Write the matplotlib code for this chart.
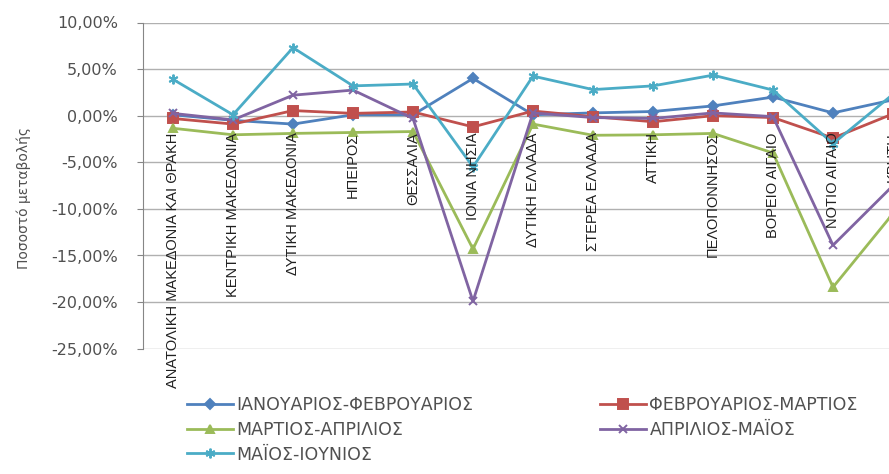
import matplotlib
matplotlib.use("Agg")
import matplotlib.pyplot as plt
from matplotlib import font_manager

# ---------------- data ----------------
regions = [
    "ΑΝΑΤΟΛΙΚΗ ΜΑΚΕΔΟΝΙΑ ΚΑΙ ΘΡΑΚΗ", "ΚΕΝΤΡΙΚΗ ΜΑΚΕΔΟΝΙΑ", "ΔΥΤΙΚΗ ΜΑΚΕΔΟΝΙΑ",
    "ΗΠΕΙΡΟΣ", "ΘΕΣΣΑΛΙΑ", "ΙΟΝΙΑ ΝΗΣΙΑ", "ΔΥΤΙΚΗ ΕΛΛΑΔΑ", "ΣΤΕΡΕΑ ΕΛΛΑΔΑ",
    "ΑΤΤΙΚΗ", "ΠΕΛΟΠΟΝΝΗΣΟΣ", "ΒΟΡΕΙΟ ΑΙΓΑΙΟ", "ΝΟΤΙΟ ΑΙΓΑΙΟ", "ΚΡΗΤΗ",
]
jan_feb = [0.1, -0.5, -0.9, 0.1, 0.1, 4.0, 0.1, 0.3, 0.45, 1.05, 2.0, 0.3, 1.7]
feb_mar = [-0.3, -0.9, 0.55, 0.25, 0.4, -1.2, 0.5, -0.1, -0.65, 0.0, -0.2, -2.4, 0.2]
mar_apr = [-1.35, -2.05, -1.9, -1.8, -1.7, -14.3, -0.9, -2.1, -2.05, -1.9, -4.0, -18.4, -10.5]
apr_may = [0.25, -0.45, 2.2, 2.75, -0.3, -19.9, 0.3, -0.2, -0.3, 0.3, -0.1, -13.9, -7.5]
may_jun = [3.9, 0.1, 7.3, 3.2, 3.4, -5.5, 4.25, 2.8, 3.2, 4.35, 2.75, -3.0, 2.3]

series_names = ["ΙΑΝΟΥΑΡΙΟΣ-ΦΕΒΡΟΥΑΡΙΟΣ", "ΦΕΒΡΟΥΑΡΙΟΣ-ΜΑΡΤΙΟΣ",
                "ΜΑΡΤΙΟΣ-ΑΠΡΙΛΙΟΣ", "ΑΠΡΙΛΙΟΣ-ΜΑΪΟΣ", "ΜΑΪΟΣ-ΙΟΥΝΙΟΣ"]
ytick_values = [10, 5, 0, -5, -10, -15, -20, -25]
ytick_labels = ["10,00%", "5,00%", "0,00%", "-5,00%", "-10,00%",
                "-15,00%", "-20,00%", "-25,00%"]
y_label = "Ποσοστό μεταβολής"

# ---------------- style ----------------
colors = ["#4F81BD", "#C0504D", "#9BBB59", "#8064A2", "#4BACC6"]
markers = ["D", "s", "^", "x", (6, 2, 0)]
msizes = [5, 7.5, 6, 6, 7]

names = {f.name for f in font_manager.fontManager.ttflist}
if "Liberation Sans Narrow" in names:
    cat_font = dict(family="Liberation Sans Narrow", size=12.5)
elif "DejaVu Sans Condensed" in names:
    cat_font = dict(family="DejaVu Sans Condensed", size=11)
else:
    cat_font = dict(family="Liberation Sans", size=10.5)

text_col = "#505050"
W, H = 889, 474
fig = plt.figure(figsize=(W / 100, H / 100), dpi=100)
left_px, top_px, bottom_px, right_px = 143, 22.5, 348.7, 923
ax = fig.add_axes([left_px / W, 1 - bottom_px / H,
                   (right_px - left_px) / W, (bottom_px - top_px) / H])

x = list(range(len(regions)))
all_series = [jan_feb, feb_mar, mar_apr, apr_may, may_jun]
handles = []
for vals, c, m, ms, name in zip(all_series, colors, markers, msizes, series_names):
    (h,) = ax.plot(x, vals, color=c, lw=2.0, marker=m, markersize=ms,
                   markerfacecolor=c, markeredgecolor=c, markeredgewidth=1.4,
                   label=name)
    handles.append(h)

ax.set_xlim(-0.5, len(regions) - 0.5)
ax.set_ylim(-25, 10)
ax.set_yticks(ytick_values)
ax.set_yticklabels(ytick_labels, fontsize=11.5, color=text_col)
ax.tick_params(axis="y", length=4, color="#868686", pad=14)
ax.set_xticks([])
for s in ["top", "right", "bottom"]:
    ax.spines[s].set_visible(False)
ax.spines["left"].set_color("#868686")
ax.yaxis.grid(True, color="#B0B0B0", lw=1)
ax.set_axisbelow(True)

for xi, name in zip(x, regions):
    ax.annotate(name, xy=(xi, 0), xytext=(0, -12), textcoords="offset points",
                rotation=90, ha="center", va="top", color="#202020",
                annotation_clip=False, **cat_font)

fig.text(24 / W, 1 - 198 / H, y_label, rotation=90, ha="center", va="center",
         fontsize=10, color=text_col)

leg_kw = dict(frameon=False, fontsize=12.5, handlelength=2.65, handletextpad=0.2,
              borderpad=0, borderaxespad=0, labelspacing=0.39, labelcolor=text_col)
leg1 = fig.legend([handles[0], handles[2], handles[4]],
                  [series_names[0], series_names[2], series_names[4]],
                  loc="upper left", bbox_to_anchor=(187 / W, 1 - 396 / H), **leg_kw)
leg2 = fig.legend([handles[1], handles[3]], [series_names[1], series_names[3]],
                  loc="upper left", bbox_to_anchor=(600 / W, 1 - 396 / H), **leg_kw)

fig.savefig("out.png", dpi=100)
